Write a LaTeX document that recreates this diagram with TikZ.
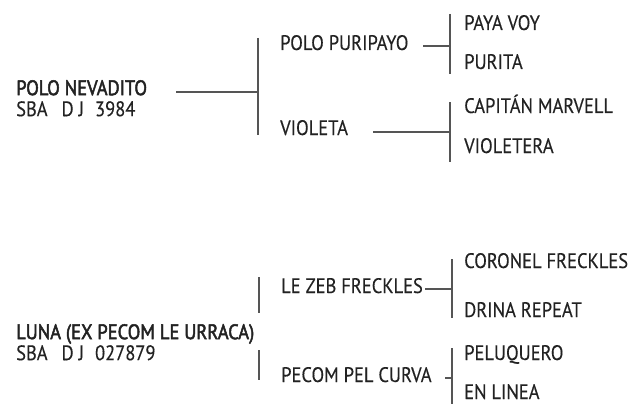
\documentclass[tikz,border=0pt]{standalone}
\usepackage{fontspec}
\setmainfont{PT Sans}
\newfontfamily\pedfont{PT Sans}[FakeStretch=0.88, FakeBold=0.3]
\newfontfamily\pedbold{PT Sans}[FakeStretch=0.88, FakeBold=2.2]
\usetikzlibrary{calc}
\usepackage{xcolor}
\definecolor{ink}{HTML}{222222}
\definecolor{edge}{HTML}{555555}
\newcommand{\reg}[1]{{\pedfont SBA\hspace{14pt}D\hspace{5pt}J\hspace{11pt}#1}}
\tikzset{
  nm/.style={anchor=base west, inner sep=0pt, text=ink, font=\pedfont\fontsize{21}{21}\selectfont},
  hd/.style={nm, anchor=north west, align=left, font=\pedbold\fontsize{21}{21}\selectfont},
  ln/.style={draw=edge, line width=1.3pt},
}
\begin{document}
\begin{tikzpicture}[x=1pt, y=-1pt]
\useasboundingbox (0,0) rectangle (632,404);

% first dam and her parents / grandparents
\node[hd] (nevadito)    at (16, 80)  {POLO NEVADITO\\\reg{3984}};
\node[nm] (puripayo)    at (280, 50)  {POLO PURIPAYO};
\node[nm] (violeta)     at (280, 135) {VIOLETA};
\node[nm] (payavoy)     at (464, 30)  {PAYA VOY};
\node[nm] (purita)      at (464, 69)  {PURITA};
\node[nm] (marvell)     at (464, 113) {CAPITÁN MARVELL};
\node[nm] (violetera)   at (464, 153) {VIOLETERA};

\coordinate (j1) at (258, 92);
\coordinate (j2) at (450, 46);
\coordinate (j3) at (450, 132);

\draw[ln] (j1) -- ++(-82,0);
\draw[ln] (j1 |- 0,38) -- (j1 |- violeta.base);
\draw[ln] (j2) -- ++(-27,0);
\draw[ln] (j2 |- 0,14) -- (j2 |- 0,74);
\draw[ln] (j3) -- ++(-77,0);
\draw[ln] (j3 |- 0,102) -- (j3 |- 0,162);

% second dam
\node[hd] (luna)        at (16, 324) {LUNA (EX PECOM LE URRACA)\\\reg{027879}};
\node[nm] (lezeb)       at (281, 293) {LE ZEB FRECKLES};
\node[nm] (pecom)       at (281, 382) {PECOM PEL CURVA};
\node[nm] (coronel)     at (464, 268) {CORONEL FRECKLES};
\node[nm] (drina)       at (464, 317) {DRINA REPEAT};
\node[nm] (peluquero)   at (464, 360) {PELUQUERO};
\node[nm] (enlinea)     at (464, 399) {EN LINEA};

\coordinate (k1) at (259, 330);
\coordinate (k2) at (452, 289);
\coordinate (k3) at (452, 378);

\draw[ln] (k1 |- 0,277) -- (k1 |- 0,313);
\draw[ln] (k1 |- 0,350) -- (k1 |- 0,380);
\draw[ln] (k2) -- ++(-27,0);
\draw[ln] (k2 |- 0,259) -- (k2 |- 0,318);
\draw[ln] (k3) -- ++(-7,0);
\draw[ln] (k3 |- 0,348) -- (k3 |- 0,404);
\end{tikzpicture}
\end{document}
